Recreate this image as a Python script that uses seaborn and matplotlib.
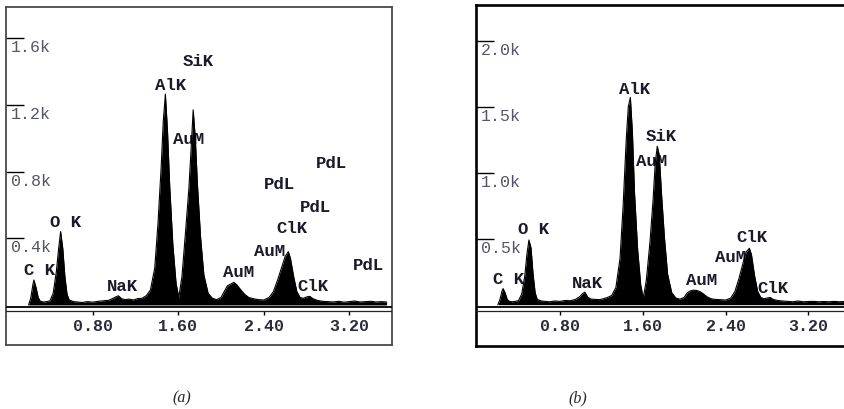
import matplotlib
matplotlib.use("Agg")
import numpy as np
import pandas as pd
import seaborn as sns
import matplotlib.pyplot as plt

sns.set_theme(style="white")
plt.rcParams['font.family'] = ['Liberation Mono', 'DejaVu Sans Mono']

# ---------------- data ----------------
energy = [0.20, 0.22, 0.24, 0.25, 0.27, 0.29, 0.31, 0.34, 0.37, 0.40,
          0.43, 0.46, 0.48, 0.50, 0.52, 0.54, 0.56, 0.58, 0.62, 0.66,
          0.70, 0.75, 0.80, 0.85, 0.90, 0.95, 0.99, 1.02, 1.04, 1.07,
          1.10, 1.14, 1.18, 1.22, 1.26, 1.30, 1.34, 1.38, 1.41, 1.44,
          1.46, 1.48, 1.50, 1.52, 1.55, 1.58, 1.605, 1.635, 1.67, 1.70,
          1.72, 1.74, 1.76, 1.78, 1.81, 1.84, 1.88, 1.92, 1.96, 2.00,
          2.03, 2.06, 2.09, 2.12, 2.15, 2.18, 2.22, 2.26, 2.30, 2.35,
          2.40, 2.45, 2.49, 2.53, 2.57, 2.60, 2.63, 2.65, 2.68, 2.71,
          2.74, 2.77, 2.80, 2.83, 2.86, 2.90, 2.95, 3.00, 3.05, 3.10,
          3.15, 3.20, 3.25, 3.30, 3.35, 3.40, 3.45, 3.50, 3.55]

counts_a = [0, 40, 120, 150, 105, 45, 22, 18, 20, 25,
            70, 200, 330, 440, 340, 170, 65, 30, 20, 18,
            15, 20, 17, 22, 25, 28, 40, 50, 55, 38,
            32, 35, 30, 38, 40, 55, 90, 220, 480, 820,
            1100, 1265, 1040, 720, 360, 130, 45, 170, 450, 700,
            930, 1170, 1000, 720, 400, 180, 70, 40, 32, 45,
            80, 115, 125, 136, 120, 95, 65, 45, 38, 32,
            30, 45, 80, 150, 230, 290, 320, 280, 170, 80,
            45, 40, 48, 52, 38, 28, 22, 20, 18, 22,
            17, 20, 24, 18, 20, 22, 18, 20, 18]

counts_b = [0, 40, 105, 122, 90, 40, 25, 22, 25, 32,
            80, 220, 380, 490, 430, 230, 90, 40, 28, 25,
            22, 28, 25, 32, 30, 40, 60, 85, 95, 55,
            42, 40, 38, 45, 55, 70, 130, 350, 750, 1250,
            1500, 1570, 1300, 850, 420, 150, 50, 190, 480, 800,
            1070, 1200, 1130, 850, 500, 230, 90, 50, 42, 55,
            90, 105, 110, 108, 100, 85, 60, 45, 40, 38,
            35, 50, 100, 200, 320, 400, 427, 380, 220, 100,
            55, 45, 50, 55, 40, 32, 28, 25, 22, 28,
            22, 24, 25, 22, 24, 22, 25, 22, 24]

xtick_values = [0.80, 1.60, 2.40, 3.20]
xtick_labels = ["0.80", "1.60", "2.40", "3.20"]

ytick_values_a = [400, 800, 1200, 1600]
ytick_labels_a = ["0.4k", "0.8k", "1.2k", "1.6k"]
ytick_values_b = [500, 1000, 1500, 2000]
ytick_labels_b = ["0.5k", "1.0k", "1.5k", "2.0k"]

# peak annotations: text, energy of text start, count level of text centre
names_a = ["SiK", "AlK", "AuM", "PdL", "PdL", "PdL", "ClK", "AuM",
           "PdL", "AuM", "ClK", "NaK", "O K", "C K"]
name_x_a = [1.645, 1.383, 1.551, 2.889, 2.402, 2.739, 2.515, 2.309,
            3.235, 2.019, 2.711, 0.934, 0.400, 0.157]
name_y_a = [1465, 1325, 1000, 856, 726, 592, 466, 326,
            242, 200, 116, 116, 500, 212]

names_b = ["AlK", "SiK", "AuM", "O K", "ClK", "AuM", "C K", "NaK", "AuM", "ClK"]
name_x_b = [1.373, 1.631, 1.534, 0.397, 2.507, 2.298, 0.150, 0.913, 2.017, 2.706]
name_y_b = [1640, 1280, 1094, 576, 520, 364, 198, 168, 187, 130]

# ---------------- figure ----------------
W, H = 844, 410
fig = plt.figure(figsize=(W / 100, H / 100), dpi=100)

def panel(box, xlim, ylim, counts, yvals, ylabs, names, nx, ny, caption, cap_x,
          frame_color, frame_lw):
    left, top, right, bottom = box
    ax = fig.add_axes([left / W, 1 - bottom / H, (right - left) / W, (bottom - top) / H])
    ax.set_xlim(*xlim)
    ax.set_ylim(*ylim)
    s = (bottom - top) / (ylim[1] - ylim[0])     # px per count
    d = (right - left) / (xlim[1] - xlim[0])     # px per keV
    df = pd.DataFrame({"energy": energy, "counts": counts})
    ax.fill_between(df["energy"], 0, df["counts"], color="black", lw=0, zorder=3)
    sns.lineplot(data=df, x="energy", y="counts", ax=ax, color="black",
                 lw=0.8, zorder=3)
    ax.set_xlabel("")
    ax.set_ylabel("")
    ax.set_xticks([])
    ax.set_yticks([])
    for sp in ax.spines.values():
        sp.set_color(frame_color)
        sp.set_linewidth(frame_lw)
    # x axis: double line with ticks below
    ax.axhline(-2.5 / s, color="black", lw=1.3, zorder=4)
    ax.axhline(-6.0 / s, color="#222222", lw=0.9, zorder=4)
    ax.vlines(xtick_values, -6.0 / s, -10.5 / s, color="black", lw=1.0)
    for xv, xl in zip(xtick_values, xtick_labels):
        ax.text(xv, -21 / s, xl, ha="center", va="center", fontsize=12,
                fontweight="bold", color="#2a2a3a")
    # y axis ticks inside at left
    ax.hlines(yvals, xlim[0], xlim[0] + 18 / d, color="black", lw=1.0)
    for yv, yl in zip(yvals, ylabs):
        ax.text(xlim[0] + 4.5 / d, yv - 8.5 / s, yl, ha="left", va="center",
                fontsize=12, color="#55556a")
    for t, x, y in zip(names, nx, ny):
        ax.text(x, y, t, ha="left", va="center", fontsize=12.5,
                fontweight="bold", color="#1a1a2a", zorder=2)
    fig.text(cap_x / W, 1 - 398 / H, caption, ha="center", va="center",
             fontsize=11.5, family="Liberation Serif", style="italic")
    return ax

panel((6, 8, 392, 346), (-0.011, 3.600), (-240, 1787), counts_a,
      ytick_values_a, ytick_labels_a, names_a, name_x_a, name_y_a, "(a)", 182,
      "#4a4a4a", 1.3)
panel((476, 6, 850.8, 347), (-0.0116, 3.61), (-313, 2270), counts_b,
      ytick_values_b, ytick_labels_b, names_b, name_x_b, name_y_b, "(b)", 578,
      "black", 1.9)

fig.savefig("out.png", dpi=100)
